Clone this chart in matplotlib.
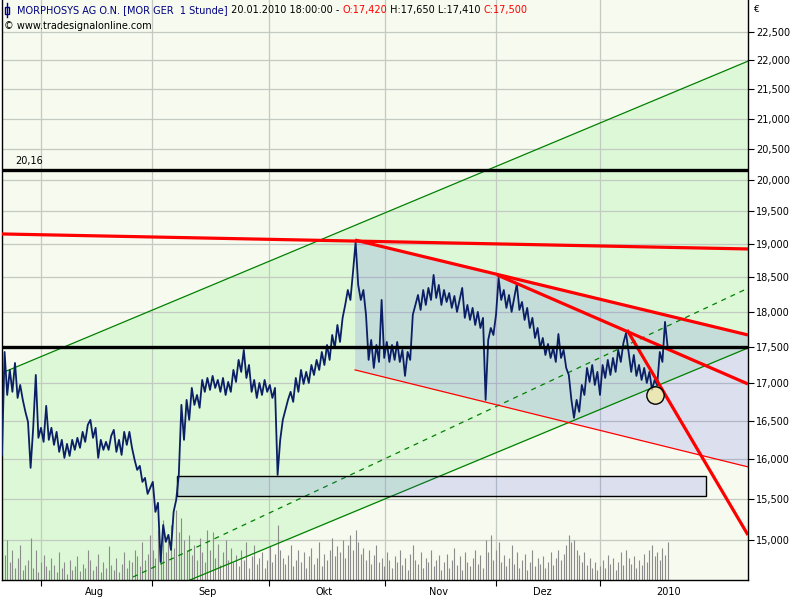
import numpy as np
import matplotlib
matplotlib.use('Agg')
import matplotlib.pyplot as plt
from matplotlib.patches import Rectangle, Polygon
from matplotlib.lines import Line2D
from matplotlib.ticker import FixedLocator, FuncFormatter, NullLocator, NullFormatter

# ---------------- data ----------------
# closing prices sampled every half trading day (x = trading days from chart start)
price = [
    16055, 17430, 16842, 17182, 16884, 17278, 16802, 16977, 16776, 16617,
    16484, 15890, 16406, 17113, 16275, 16406, 16223, 16696, 16249, 16406,
    16184, 16353, 16094, 16249, 16017, 16197, 16042, 16249, 16120, 16275,
    16146, 16353, 16223, 16445, 16510, 16275, 16406, 16017, 16249, 16120,
    16223, 16120, 16301, 16379, 16094, 16249, 16055, 16353, 16184, 16353,
    16146, 15992, 15864, 15915, 15713, 15763, 15563, 15638, 15713, 15341,
    15452, 14740, 15182, 14978, 15062, 14882, 15341, 15489, 15801, 16709,
    16249, 16776, 16510, 16937, 16709, 16842, 16670, 17045, 16884, 17072,
    16910, 17100, 16937, 17045, 16884, 17072, 16842, 17018, 16884, 17182,
    17018, 17320, 17155, 17458, 17072, 17250, 16884, 17045, 16802, 17004,
    16842, 17045, 16884, 16977, 16802, 16937, 15801, 16249, 16510, 16643,
    16776, 16884, 16749, 17072, 16884, 17182, 16991, 17155, 17004, 17250,
    17113, 17320, 17182, 17430, 17250, 17528, 17320, 17668, 17486, 17810,
    17570, 17911, 18097, 18314, 18169, 18579, 19029, 18388, 18169, 18314,
    17954, 17320, 17598, 17209, 17528, 17292, 18169, 17347, 17570, 17292,
    17528, 17320, 17570, 17292, 17458, 17100, 17430, 17320, 17954, 18097,
    18241, 18025, 18314, 18097, 18344, 18169, 18536, 18198, 18388, 18097,
    18314, 18140, 18270, 18054, 18227, 17997, 18169, 18344, 17911, 18097,
    17882, 18054, 17810, 17997, 17767, 17911, 16776, 17598, 17767, 17668,
    17954, 18492, 18169, 18314, 18054, 18241, 17997, 18198, 18403, 18025,
    18140, 17882, 18054, 17767, 17911, 17626, 17767, 17486, 17626, 17388,
    17542, 17347, 17486, 17292, 17682, 17347, 17458, 17209, 17113, 16776,
    16537, 16776, 16617, 16977, 16842, 17209, 17018, 17250, 16977, 17155,
    16842, 17250, 17072, 17320, 17113, 17347, 17155, 17458, 17292, 17556,
    17696, 17430, 17155, 17388, 17100, 17250, 17045, 17209, 17004, 17155,
    16910, 17045, 16977, 17430, 17292, 17854, 17500,
]
# volume (thousand shares) for the same samples
volume = [
    120, 25, 40, 18, 30, 12, 22, 35, 10, 15,
    20, 42, 12, 30, 8, 18, 25, 14, 10, 22,
    15, 8, 28, 12, 18, 6, 20, 10, 14, 24,
    9, 16, 12, 30, 20, 10, 14, 26, 8, 18,
    12, 34, 15, 10, 22, 8, 16, 28, 12, 20,
    18, 30, 24, 14, 38, 20, 26, 45, 30, 22,
    50, 35, 60, 28, 40, 55, 32, 70, 48, 62,
    40, 30, 45, 25, 35, 20, 42, 28, 18, 50,
    30, 48, 22, 36, 15, 28, 40, 20, 32, 18,
    25, 14, 30, 20, 38, 12, 24, 35, 16, 22,
    28, 12, 20, 34, 18, 26, 55, 30, 22, 16,
    25, 35, 14, 20, 30, 18, 28, 12, 24, 32,
    16, 22, 38, 14, 26, 20, 30, 42, 24, 34,
    28, 40, 22, 35, 45, 30, 50, 38, 26, 32,
    20, 30, 16, 25, 35, 18, 22, 14, 28, 20,
    12, 24, 18, 30, 15, 22, 10, 26, 35, 20,
    16, 28, 12, 22, 18, 30, 14, 20, 25, 10,
    18, 26, 12, 20, 32, 15, 24, 10, 28, 18,
    14, 22, 30, 16, 25, 12, 40, 28, 45, 20,
    30, 38, 18, 25, 14, 22, 35, 16, 28, 12,
    20, 26, 10, 18, 30, 14, 22, 16, 24, 12,
    18, 28, 15, 22, 30, 20, 26, 35, 45, 38,
    40, 30, 25, 18, 28, 15, 22, 12, 18, 10,
    14, 20, 12, 25, 16, 22, 10, 18, 28, 15,
    30, 22, 16, 24, 12, 20, 15, 26, 18, 30,
    35, 24, 28, 20, 32, 25, 38,
]
sample_step = 0.5          # trading days per sample
x_end = 143.46             # right edge of chart in trading days

month_start = [7.5, 28.85, 51.35, 73.65, 95.0, 115.0]
month_label_pos = [17.7, 39.6, 61.9, 83.85, 103.85, 128.1]
month_labels = ['Aug', 'Sep', 'Okt', 'Nov', 'Dez', '2010']
y_ticks = list(range(15000, 23000, 500))
y_range = (14529, 23085)

# drawing tools: (day0, price0, day1, price1)
green_upper = (0.0, 17141, 143.46, 21985)
green_lower = (36.15, 14529, 143.46, 17486)
green_dashed = (25.2, 14564, 143.46, 18340)
red_flat = (0.0, 19152, 143.46, 18924)
red_channel_top = (67.9, 19059, 143.46, 17668)
red_channel_bottom = (67.9, 17182, 143.46, 15902)
red_trend_nov = (95.2, 18536, 143.46, 16990)
red_trend_dec = (120.2, 17739, 143.46, 15060)
level_high = 20160
level_high_label = '20,16'
level_mid = 17500
box_days = (33.65, 135.4)
box_prices = (15540, 15790)
circle_pt = (125.6, 16842)

title_parts = [
    ('MORPHOSYS AG O.N. [MOR GER  1 Stunde]', '#000080'),
    (' 20.01.2010 18:00:00 - ', '#000000'),
    ('O:17,420', '#FF0000'),
    (' H:17,650 L:17,410 ', '#000000'),
    ('C:17,500', '#FF0000'),
]
subtitle = '© www.tradesignalonline.com'

# ---------------- colours ----------------
BG = '#F7FAEE'
GREEN_FILL = '#DCF8D6'
BLUE_OVER = '#4446E8'
GRID = '#C2CAC2'
NAVY = '#0B1F66'

plt.rcParams['font.family'] = ['DejaVu Sans']


def line_at(line, x):
    d0, p0, d1, p1 = line
    t = (np.asarray(x) - d0) / (d1 - d0)
    return p0 * (p1 / p0) ** t


fig = plt.figure(figsize=(8, 6), dpi=100, facecolor='white')
ax = fig.add_axes([2 / 800, 20 / 600, 746 / 800, 580 / 600])
ax.set_facecolor(BG)
ax.set_yscale('log')
ax.set_xlim(0, x_end)
ax.set_ylim(*y_range)

# green channel fill
xs = np.linspace(0, x_end, 400)
ax.fill_between(xs, line_at(green_lower, xs), line_at(green_upper, xs),
                color=GREEN_FILL, lw=0, zorder=0.5)

# descending channel shading
poly = Polygon([(red_channel_top[0], red_channel_top[1]),
                (red_channel_top[2], red_channel_top[3]),
                (red_channel_bottom[2], red_channel_bottom[3]),
                (red_channel_bottom[0], red_channel_bottom[1])],
               closed=True, facecolor=BLUE_OVER, alpha=0.15, lw=0, zorder=0.8)
ax.add_patch(poly)

# box
ax.add_patch(Rectangle((box_days[0], box_prices[0]), box_days[1] - box_days[0],
                       box_prices[1] - box_prices[0], facecolor=(0.267, 0.275, 0.91, 0.15),
                       edgecolor='black', lw=1.0, zorder=2.6))

# grid
ax.xaxis.set_major_locator(FixedLocator(month_start))
ax.xaxis.set_major_formatter(NullFormatter())
ax.xaxis.set_minor_locator(FixedLocator(month_label_pos))
ax.xaxis.set_minor_formatter(FuncFormatter(lambda v, p: month_labels[p] if p is not None and p < len(month_labels) else ''))
ax.yaxis.set_major_locator(FixedLocator(y_ticks))
ax.yaxis.set_minor_locator(NullLocator())
ax.yaxis.set_major_formatter(FuncFormatter(lambda v, p: f'{int(round(v)):,}'))
ax.grid(True, which='major', color=GRID, lw=0.9, zorder=1)
ax.set_axisbelow(True)

# volume bars (bottom of panel)
x_vol = np.arange(len(volume)) * sample_step
ax.vlines(x_vol, 0, np.asarray(volume) / 580.0, transform=ax.get_xaxis_transform(),
          color='#8C8C8C', lw=0.8, zorder=1.5)

# green lines
for ln, ls in [(green_upper, '-'), (green_lower, '-'), (green_dashed, (0, (4, 4)))]:
    ax.plot([ln[0], ln[2]], [ln[1], ln[3]], color='#008000', lw=0.9, ls=ls, zorder=2)

# price
x_price = np.arange(len(price)) * sample_step
ax.plot(x_price, price, color=NAVY, lw=1.3, zorder=3)

# red lines
ax.plot([red_channel_bottom[0], red_channel_bottom[2]], [red_channel_bottom[1], red_channel_bottom[3]],
        color='#FF0000', lw=0.9, zorder=3.5)
for ln in [red_flat, red_channel_top, red_trend_nov, red_trend_dec]:
    ax.plot([ln[0], ln[2]], [ln[1], ln[3]], color='#FF0000', lw=2.3, zorder=3.6,
            solid_capstyle='butt')

# horizontal levels
ax.axhline(level_high, color='black', lw=2.4, zorder=3.7)
ax.axhline(level_mid, color='black', lw=2.4, zorder=3.7)
ax.annotate(level_high_label, (2.5, level_high), xytext=(0, 3), textcoords='offset points',
            fontsize=7, va='bottom', ha='left', color='black')

# marker circle
ax.plot([circle_pt[0]], [circle_pt[1]], marker='o', ms=12.5, mfc=(0.95, 0.92, 0.62, 0.7),
        mec='black', mew=1.0, zorder=4)

# axes styling
ax.yaxis.tick_right()
ax.tick_params(axis='y', which='major', direction='out', length=4, width=0.8, pad=2,
               labelsize=7, colors='black')
ax.tick_params(axis='x', which='major', direction='out', length=4, width=0.8)
ax.tick_params(axis='x', which='minor', length=0, pad=5, labelsize=7)
for s in ['left', 'right', 'bottom']:
    ax.spines[s].set_color('black')
    ax.spines[s].set_linewidth(1.0)
ax.spines['top'].set_visible(False)

# header text
fig.canvas.draw()
r = fig.canvas.get_renderer()
xpos = 17 / 800
for s, c in title_parts:
    t = fig.text(xpos, 1 - 10 / 600, s, color=c, fontsize=7, va='center', ha='left')
    bb = t.get_window_extent(renderer=r)
    xpos += bb.width / 800
fig.text(4 / 800, 1 - 26 / 600, subtitle, color='black', fontsize=7, va='center', ha='left')
fig.text(754 / 800, 1 - 9 / 600, '€', color='black', fontsize=6.5, va='center', ha='left')

# small candle icon
fig.add_artist(Line2D([7 / 800, 7 / 800], [1 - 3 / 600, 1 - 17 / 600], color='#000080', lw=1.0,
                      transform=fig.transFigure))
fig.add_artist(Rectangle((5 / 800, 1 - 14 / 600), 4 / 800, 7 / 600, facecolor='white',
                         edgecolor='#000080', lw=1.0, transform=fig.transFigure))

fig.savefig('out.png', dpi=100)
